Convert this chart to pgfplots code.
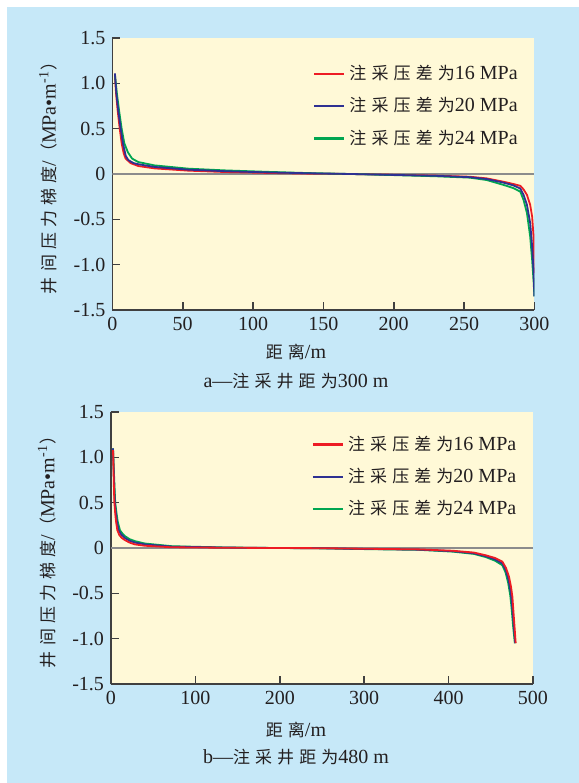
\documentclass[border=0pt]{standalone}
\usepackage{fontspec}
\setmainfont{Liberation Serif}
\newfontfamily\cjk[LetterSpace=30, Scale=0.85]{Noto Sans CJK SC}
\usepackage{pgfplots}
\pgfplotsset{compat=1.18}

\definecolor{bgblue}{RGB}{198,232,248}
\definecolor{paneyellow}{RGB}{255,249,215}
\definecolor{cred}{RGB}{237,28,36}
\definecolor{cblue}{RGB}{46,49,146}
\definecolor{cgreen}{RGB}{0,166,81}
\definecolor{axgray}{RGB}{64,64,64}
\definecolor{zerogray}{RGB}{140,140,140}
\definecolor{txt}{RGB}{35,31,32}

\newcommand\fs{\fontsize{10}{12}\selectfont}

\pgfplotsset{
  panel/.style={
    scale only axis, width=211pt, height=136pt,
    axis x line=bottom, axis y line=left,
    axis line style={-, draw=axgray, line width=0.8pt},
    axis background/.style={fill=paneyellow},
    tick align=inside, major tick length=4pt,
    tick style={draw=axgray, line width=0.8pt},
    ymin=-1.5, ymax=1.5,
    ytick={-1.5,-1,-0.5,0,0.5,1,1.5},
    yticklabels={-1.5,-1.0,-0.5,0,0.5,1.0,1.5},
    /pgf/number format/assume math mode=true,
    tick label style={font=\fs, text=txt},
    label style={font=\fs, text=txt},
    ylabel={{\cjk 井间压力梯度}/{\cjk （}MPa•m\textsuperscript{-1}{\cjk ）}},
    ylabel style={at={(axis description cs:-0.152,0.5)}, anchor=center},
    legend style={draw=none, fill=none, font=\fs, text=txt, row sep=3.4pt},
    legend cell align=left,
    legend image code/.code={\draw[#1] (0pt,0pt) -- (15pt,0pt);},
    every axis plot/.append style={line width=0.9pt, line join=round},
  },
}

\begin{document}
\begin{tikzpicture}[font=\fs]
\path[use as bounding box, fill=white] (0,0) rectangle (289.5pt,-391.5pt);
\fill[bgblue] (3.5pt,-3.5pt) rectangle (289.5pt,-391.5pt);

% panel a: 300 m
\begin{axis}[panel, at={(56.2pt,-155pt)}, anchor=south west,
  xmin=0, xmax=300, xtick={0,50,...,300},
  legend style={at={(0.985,0.93)}, anchor=north east}]
\addplot[zerogray, line width=0.7pt, forget plot] coordinates {(0,0) (300,0)};
\addplot[cred, forget plot] coordinates {
 (1.8,1.08) (2.6,0.89) (3.7,0.706) (5.2,0.5) (6.6,0.338) (8,0.23) (9.4,0.17)
 (13,0.12) (18.4,0.088) (30,0.062) (54,0.037) (80,0.022) (110,0.012) (140,0.004)
 (170,0) (200,-0.008) (230,-0.018) (254,-0.03) (266,-0.048) (278,-0.085)
 (285,-0.11) (290,-0.13) (292.3,-0.17) (294.7,-0.23) (297,-0.34) (298.4,-0.47)
 (299.4,-0.69) (300,-1.095)};
\addplot[cgreen, forget plot] coordinates {
 (1.8,1.09) (3.2,0.89) (4.7,0.706) (6.6,0.5) (8.5,0.338) (11,0.24) (14,0.17)
 (18.4,0.132) (30,0.095) (54,0.059) (80,0.04) (110,0.024) (140,0.01) (170,0)
 (200,-0.012) (230,-0.025) (254,-0.04) (266,-0.066) (278,-0.12) (285,-0.155)
 (290,-0.195) (292.3,-0.287) (294.7,-0.43) (297,-0.69) (298.4,-0.95)
 (299.5,-1.2) (300,-1.35)};
\addplot[cblue, forget plot] coordinates {
 (1.8,1.11) (2.8,0.89) (4.1,0.706) (5.9,0.5) (7.5,0.338) (9.5,0.2) (11.3,0.154)
 (15,0.12) (18.4,0.108) (30,0.078) (54,0.048) (80,0.031) (110,0.018) (140,0.008)
 (170,0) (200,-0.01) (230,-0.02) (254,-0.035) (266,-0.055) (278,-0.095)
 (285,-0.125) (290,-0.16) (292.3,-0.23) (294.7,-0.34) (297,-0.54)
 (298.4,-0.8) (299.5,-1.1) (300,-1.35)};
\addlegendimage{cred, line width=1.1pt}
\addlegendentry{{\cjk 注采压差为}16 MPa}
\addlegendimage{cblue, line width=1.1pt}
\addlegendentry{{\cjk 注采压差为}20 MPa}
\addlegendimage{cgreen, line width=1.1pt}
\addlegendentry{{\cjk 注采压差为}24 MPa}
\end{axis}

% panel b: 480 m
\begin{axis}[panel, at={(55.5pt,-342pt)}, anchor=south west,
  xmin=0, xmax=500, xtick={0,100,...,500},
  legend style={at={(0.985,0.943)}, anchor=north east}]
\addplot[zerogray, line width=0.7pt, forget plot] coordinates {(0,0) (500,0)};
\addplot[cgreen, forget plot] coordinates {
 (2.4,1.10) (3.4,0.85) (4.3,0.65) (5,0.5) (6.6,0.38) (8,0.29) (10.6,0.197)
 (13.5,0.16) (16.5,0.131) (22,0.098) (28.4,0.076) (40,0.05) (72,0.02) (135,0.006)
 (200,0) (250,-0.004) (300,-0.012) (365,-0.02) (404.7,-0.04) (430,-0.065)
 (444,-0.1) (455,-0.14) (463.7,-0.19) (467.5,-0.27) (470.5,-0.38) (473,-0.52)
 (474.5,-0.65) (476.5,-0.87) (478.5,-1.05)};
\addplot[cblue, forget plot] coordinates {
 (2.4,1.10) (3.2,0.85) (3.9,0.65) (4.5,0.5) (5.8,0.38) (7,0.29) (9,0.197)
 (12,0.15) (16.5,0.11) (22,0.08) (28.4,0.06) (40,0.04) (72,0.015) (135,0.005)
 (200,0) (250,-0.003) (300,-0.01) (365,-0.018) (404.7,-0.035) (430,-0.058)
 (444,-0.09) (455,-0.125) (463.7,-0.17) (468,-0.25) (471,-0.35) (473.5,-0.48)
 (475,-0.6) (477,-0.83) (479,-1.05)};
\addplot[cred, forget plot] coordinates {
 (2.4,1.08) (3,0.85) (3.5,0.65) (4,0.5) (5,0.38) (6,0.29) (7.5,0.197)
 (10,0.14) (13,0.11) (16.5,0.087) (22,0.06) (28.4,0.04) (40,0.025) (72,0.008)
 (135,0.003) (200,0) (250,-0.002) (300,-0.008) (365,-0.015) (404.7,-0.03)
 (430,-0.05) (444,-0.08) (455,-0.11) (463.7,-0.15) (468,-0.22) (471.6,-0.317)
 (474,-0.43) (475.6,-0.54) (477.6,-0.8) (479.5,-1.05)};
\addlegendimage{cred, line width=1.1pt}
\addlegendentry{{\cjk 注采压差为}16 MPa}
\addlegendimage{cblue, line width=1.1pt}
\addlegendentry{{\cjk 注采压差为}20 MPa}
\addlegendimage{cgreen, line width=1.1pt}
\addlegendentry{{\cjk 注采压差为}24 MPa}
\end{axis}

\node[text=txt] at (148pt,-176pt) {{\cjk 距离}/m};
\node[text=txt] at (148pt,-190.5pt) {a—{\cjk 注采井距为}300 m};
\node[text=txt] at (148pt,-365pt) {{\cjk 距离}/m};
\node[text=txt] at (148pt,-378.5pt) {b—{\cjk 注采井距为}480 m};
\end{tikzpicture}
\end{document}
